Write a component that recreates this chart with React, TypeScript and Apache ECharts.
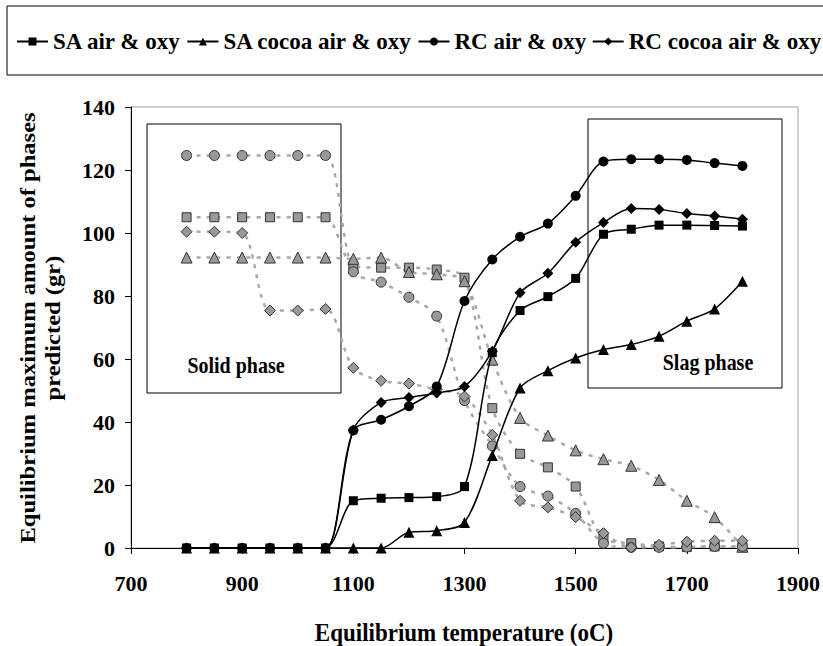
import React, { useEffect, useRef } from "react";
import * as echarts from "echarts";

const FONT = '"Liberation Serif", "Times New Roman", serif';

const temps = [800, 850, 900, 950, 1000, 1050, 1100, 1150, 1200, 1250, 1300, 1350, 1400, 1450, 1500, 1550, 1600, 1650, 1700, 1750, 1800];

// Slag phase (black, solid lines)
const saAir = [0, 0, 0, 0, 0, 0, 15.0, 15.8, 16.0, 16.3, 19.5, 62, 75.4, 79.8, 85.6, 99.6, 101.2, 102.5, 102.5, 102.4, 102.2];
const saCocoa = [0, 0, 0, 0, 0, 0, 0, 0, 5.0, 5.5, 8.1, 29.4, 50.8, 56.3, 60.3, 63.0, 64.6, 67.2, 72.0, 75.9, 84.7];
const rcAir = [0, 0, 0, 0, 0, 0, 37.3, 40.7, 45.0, 51.3, 78.4, 91.6, 98.8, 103.0, 111.8, 122.7, 123.4, 123.4, 123.2, 122.2, 121.3];
const rcCocoa = [0, 0, 0, 0, 0, 0, 37.5, 46.2, 47.8, 49.2, 51.3, 62.5, 81.0, 87.2, 97.1, 103.3, 107.8, 107.5, 106.2, 105.4, 104.4];

// Solid phase (grey, dotted lines)
const saAirSolid = [105, 105, 105, 105, 105, 105, 89.5, 89.0, 89.0, 88.4, 85.8, 44.4, 29.9, 25.6, 19.5, 3.0, 1.5, 0.5, 0.3, 0.5, 0.3];
const saCocoaSolid = [92.2, 92.2, 92.2, 92.2, 92.2, 92.2, 91.8, 92.2, 87.6, 86.9, 84.7, 59.8, 41.3, 35.7, 31.0, 28.2, 26.1, 21.6, 15.0, 9.8, 0.4];
const rcAirSolid = [124.6, 124.6, 124.6, 124.6, 124.6, 124.6, 87.7, 84.4, 79.6, 73.6, 46.8, 32.4, 19.5, 16.5, 11.0, 1.5, 0.2, 0.2, 0.3, 0.5, 0.5];
const rcCocoaSolid = [100.4, 100.4, 100.0, 75.4, 75.4, 75.9, 57.2, 53.1, 52.2, 50.3, 48.1, 35.9, 15.0, 12.9, 9.8, 4.7, 0.2, 1.0, 2.0, 2.3, 2.3];

const seriesNames = ["SA air & oxy", "SA cocoa air & oxy", "RC air & oxy", "RC cocoa air & oxy"];
const symbols = ["rect", "triangle", "circle", "diamond"];
const symbolSizes = [9, 11, 10, 11];

const pairs = (vals: number[]) => temps.map((t, i) => [t, vals[i]]);

export default function App() {
  const ref = useRef<HTMLDivElement>(null);
  useEffect(() => {
    if (!ref.current) return;
    const chart = echarts.init(ref.current, null, { renderer: "svg" });
    const slag = [saAir, saCocoa, rcAir, rcCocoa];
    const solid = [saAirSolid, saCocoaSolid, rcAirSolid, rcCocoaSolid];

    const greySeries = solid.map((vals, i) => ({
      name: seriesNames[i] + " (solid)",
      type: "line",
      data: pairs(vals),
      smooth: 0.3,
      symbol: symbols[i],
      symbolSize: symbolSizes[i],
      itemStyle: { color: "#999999", borderColor: "#333333", borderWidth: 1 },
      lineStyle: { color: "#a8a8a8", width: 2.5, type: [4, 6] },
      z: 2,
    }));
    const blackSeries = slag.map((vals, i) => ({
      name: seriesNames[i],
      type: "line",
      data: pairs(vals),
      smooth: 0.3,
      symbol: symbols[i],
      symbolSize: symbolSizes[i],
      itemStyle: { color: "#000000", borderColor: "#000000", borderWidth: 0 },
      lineStyle: { color: "#000000", width: 1.5 },
      z: 3,
    }));

    chart.setOption({
      animation: false,
      backgroundColor: "#ffffff",
      textStyle: { fontFamily: FONT },
      grid: {
        left: 131,
        right: 25,
        top: 107,
        bottom: 98,
        show: true,
        borderColor: "#a0a0a0",
        borderWidth: 1,
      },
      legend: {
        data: seriesNames,
        left: 16,
        top: 30,
        padding: 0,
        itemWidth: 31,
        itemHeight: 10,
        itemGap: 5,
        textStyle: { fontFamily: FONT, fontSize: 23, fontWeight: "bold", color: "#000" },
      },
      xAxis: {
        type: "value",
        min: 700,
        max: 1900,
        interval: 200,
        axisLine: { show: true, lineStyle: { color: "#000", width: 1 } },
        axisTick: { show: true, inside: false, length: 6, lineStyle: { color: "#000" } },
        axisLabel: {
          fontFamily: FONT,
          fontSize: 22,
          fontWeight: "bold",
          color: "#000",
          margin: 24,
          formatter: (v: number) => String(v),
        },
        splitLine: { show: false },
      },
      yAxis: {
        type: "value",
        min: 0,
        max: 140,
        interval: 20,
        axisLine: { show: true, lineStyle: { color: "#000", width: 1 } },
        axisTick: { show: true, inside: false, length: 6, lineStyle: { color: "#000" } },
        axisLabel: { fontFamily: FONT, fontSize: 22, fontWeight: "bold", color: "#000", margin: 16 },
        splitLine: { show: false },
      },
      graphic: [
        {
          type: "rect",
          shape: { x: 7, y: 6, width: 830, height: 69 },
          style: { fill: "none", stroke: "#000", lineWidth: 1 },
          z: 0,
        },
        {
          type: "rect",
          shape: { x: 147, y: 124, width: 194, height: 269 },
          style: { fill: "none", stroke: "#000", lineWidth: 1 },
          z: 1,
        },
        {
          type: "rect",
          shape: { x: 588, y: 119, width: 194, height: 269 },
          style: { fill: "none", stroke: "#000", lineWidth: 1 },
          z: 1,
        },
        {
          type: "text",
          x: 236,
          y: 366,
          scaleY: 1.15,
          style: { text: "Solid phase", font: `bold 20px ${FONT}`, fill: "#000", align: "center", verticalAlign: "middle" },
          z: 5,
        },
        {
          type: "text",
          x: 708,
          y: 363,
          scaleY: 1.15,
          style: { text: "Slag phase", font: `bold 20px ${FONT}`, fill: "#000", align: "center", verticalAlign: "middle" },
          z: 5,
        },
        {
          type: "text",
          x: 28,
          y: 328,
          rotation: Math.PI / 2,
          scaleX: 1.17,
          style: { text: "Equilibrium maximum amount of phases", font: `bold 21px ${FONT}`, fill: "#000", align: "center", verticalAlign: "middle" },
          z: 5,
        },
        {
          type: "text",
          x: 53,
          y: 328,
          rotation: Math.PI / 2,
          scaleX: 1.17,
          style: { text: "predicted (gr)", font: `bold 21px ${FONT}`, fill: "#000", align: "center", verticalAlign: "middle" },
          z: 5,
        },
        {
          type: "text",
          x: 464,
          y: 632,
          scaleY: 1.1,
          style: { text: "Equilibrium temperature (oC)", font: `bold 23px ${FONT}`, fill: "#000", align: "center", verticalAlign: "middle" },
          z: 5,
        },
      ],
      series: [...greySeries, ...blackSeries],
    });
    return () => chart.dispose();
  }, []);
  return (
    <div
      ref={ref}
      style={{ position: "fixed", left: 0, top: 0, width: 823, height: 646, background: "#fff" }}
    />
  );
}
